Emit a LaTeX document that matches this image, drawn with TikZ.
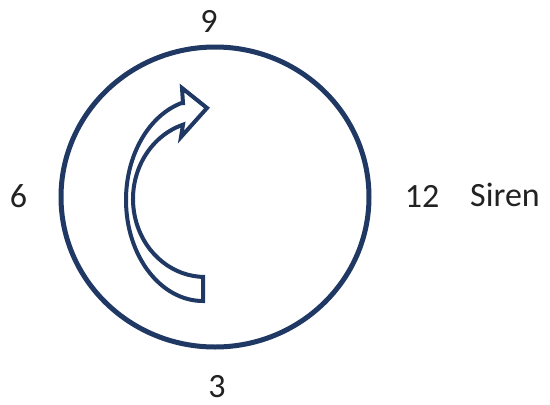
\documentclass[tikz,border=0pt]{standalone}
\usepackage{fontspec}
\setmainfont{Carlito}
\definecolor{navy}{HTML}{1F3864}
\definecolor{labelgray}{HTML}{222222}
\begin{document}
\begin{tikzpicture}[x=1pt,y=1pt,
  lbl/.style={inner sep=0pt, text=labelgray, font=\fontsize{34}{40}\selectfont},
  ring/.style={draw=navy, line width=5pt},
  blockarrow/.style={draw=navy, line width=4pt, line join=miter, fill=white}]
\useasboundingbox (0,0) rectangle (550,-405);
\fill[white] (0,0) rectangle (550,-405);
\draw[ring] (215,-197) ellipse[x radius=154, y radius=150];
\draw[blockarrow] (183,-103.2) -- (182,-88) -- (207,-108) -- (181,-137) -- (183,-124.7)
  arc[start angle=107.8, end angle=270, x radius=72, y radius=78]
  -- (203,-277) -- (203,-301)
  arc[start angle=270, end angle=106.6, x radius=77, y radius=101] -- cycle;
\node[lbl] (nine) at (209,-21.5) {9};
\node[lbl] (six) at (18.5,-196) {6};
\node[lbl] (twelve) at (422,-196.5) {12};
\node[lbl] (siren) at (505,-195) {Siren};
\node[lbl] (three) at (217,-387) {3};
\end{tikzpicture}
\end{document}
